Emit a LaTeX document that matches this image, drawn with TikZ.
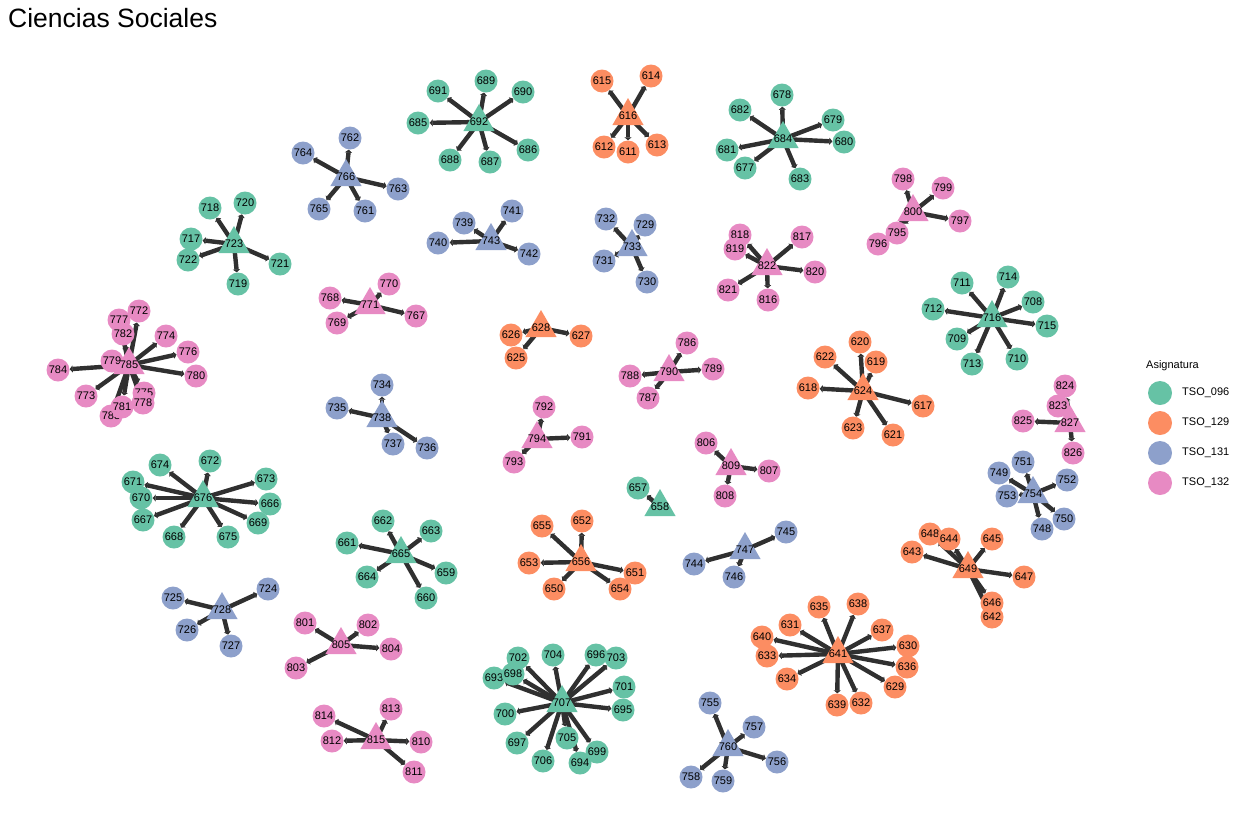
\documentclass[tikz,border=0pt]{standalone}
\usepackage{fontspec}
\setmainfont{Liberation Sans}
\usetikzlibrary{shapes.geometric,arrows.meta}
\pgfdeclarelayer{background}
\pgfsetlayers{background,main}
\definecolor{cG}{HTML}{66C2A5}
\definecolor{cO}{HTML}{FC8D62}
\definecolor{cB}{HTML}{8DA0CB}
\definecolor{cP}{HTML}{E78AC3}
\definecolor{edgec}{HTML}{303030}
\tikzset{
  lbl/.style={font=\fontsize{11}{11}\selectfont, inner sep=0pt},
  leaf/.style={circle, minimum size=23pt, inner sep=0pt, draw=none, font=\fontsize{11}{11}\selectfont},
  hub/.style={regular polygon, regular polygon sides=3, minimum size=36pt, inner sep=0pt, draw=none},
  edge/.style={draw=edgec, line width=4.4pt, -{Triangle[length=3pt,width=7pt]}},
}
\newcommand\grp[4]{%
  \foreach \l/\x/\y in {#4} {\node[leaf,fill=#1] (n\l) at (\x,\y) {\l};}
  \node[hub,fill=#1,label={[lbl]center:#2}] (n#2) at (#3) {};
  \begin{pgfonlayer}{background}
  \foreach \l/\x/\y in {#4} {\draw[edge] (n#2.center) -- (n\l);}
  \end{pgfonlayer}
}
\begin{document}
\begin{tikzpicture}[x=1pt,y=-1pt]
\useasboundingbox (0,0) rectangle (1249,823);
\node[anchor=base west, inner sep=0pt, font=\fontsize{26.5}{26.5}\selectfont] (title) at (8,27) {Ciencias Sociales};
% TSO_096 green
\grp{cG}{692}{479,122}{691/438/91, 689/486/81, 690/523/92, 685/418/123, 688/450/160, 687/490/162, 686/528/150}
\grp{cG}{684}{783,139}{678/782/95, 682/740/110, 679/833/120, 680/844/142, 681/727/150, 677/745/168, 683/800/179}
\grp{cG}{723}{234,244}{718/210/208, 720/245/203, 717/191/239, 722/188/260, 721/280/264, 719/238/284}
\grp{cG}{716}{992,318}{711/962/283, 714/1008/277, 708/1033/302, 712/933/309, 715/1047/326, 709/957/339, 713/972/364, 710/1017/359}
\grp{cG}{676}{203,498}{674/160/465, 672/210/461, 671/133/482, 673/266/479, 670/141/498, 666/270/504, 667/143/520, 669/258/523, 668/174/537, 675/228/537}
\grp{cG}{658}{660,507}{657/638/488}
\grp{cG}{665}{401,554}{662/383/521, 663/431/531, 661/347/543, 659/446/573, 664/367/577, 660/426/598}
\grp{cG}{707}{562,703}{702/518/658, 704/553/655, 696/596/655, 703/616/658, 693/494/678, 698/513/674, 701/624/687, 700/505/714, 695/623/710, 697/517/743, 705/567/738, 699/597/752, 706/543/761, 694/580/763}
% TSO_129 orange
\grp{cO}{616}{628,116}{615/602/81, 614/651/76, 612/604/147, 611/628/152, 613/657/145}
\grp{cO}{628}{541,328}{626/511/335, 625/516/358, 627/581/336}
\grp{cO}{624}{863,391}{620/860/342, 622/825/357, 619/876/362, 618/808/388, 617/923/406, 623/853/428, 621/893/435}
\grp{cO}{656}{581,562}{655/542/526, 652/582/521, 653/529/563, 651/635/573, 650/554/589, 654/620/589}
\grp{cO}{649}{968,569}{648/930/534, 644/949/539, 645/992/539, 643/912/552, 647/1024/577, 646/992/603, 642/992/617}
\grp{cO}{641}{838,654}{635/819/607, 638/858/604, 631/790/625, 637/882/630, 640/762/637, 630/908/646, 633/767/656, 636/907/667, 634/787/679, 629/895/687, 639/837/705, 632/861/703}
% TSO_131 blue
\grp{cB}{766}{346,177}{762/350/138, 764/303/153, 763/398/189, 765/319/209, 761/365/211}
\grp{cB}{743}{491,241}{739/464/223, 741/512/211, 740/438/243, 742/529/254}
\grp{cB}{733}{632,247}{732/606/219, 729/645/225, 731/604/261, 730/647/282}
\grp{cB}{738}{382,418}{734/382/385, 735/337/408, 737/393/444, 736/427/448}
\grp{cB}{754}{1033,494}{751/1023/462, 749/999/473, 752/1067/480, 753/1007/496, 750/1064/519, 748/1042/529}
\grp{cB}{747}{745,550}{745/786/532, 744/694/564, 746/734/577}
\grp{cB}{728}{222,610}{725/173/598, 724/268/589, 726/187/630, 727/231/646}
\grp{cB}{760}{728,747}{755/710/703, 757/754/727, 756/777/762, 758/691/777, 759/723/781}
% TSO_132 pink
\grp{cP}{822}{767,266}{818/740/235, 819/735/249, 817/802/237, 820/815/272, 821/728/290, 816/768/300}
\grp{cP}{800}{913,212}{798/903/179, 799/943/188, 797/960/221, 796/878/244, 795/897/233}
\grp{cP}{771}{370,305}{770/389/284, 768/330/298, 769/337/323, 767/416/316}
\grp{cP}{785}{129,365}{772/139/311, 777/119/320, 782/123/334, 774/166/336, 776/188/352, 779/112/361, 784/58/370, 780/196/376, 773/86/396, 775/144/393, 778/143/403, 783/111/416, 781/122/407}
\grp{cP}{790}{669,372}{786/687/343, 788/630/376, 789/713/369, 787/648/398}
\grp{cP}{794}{537,439}{792/544/407, 791/582/437, 793/514/462}
\grp{cP}{809}{731,466}{806/706/443, 807/769/471, 808/725/496}
\grp{cP}{827}{1070,423}{824/1065/386, 823/1058/406, 825/1023/421, 826/1073/453}
\grp{cP}{805}{341,645}{801/305/623, 802/368/625, 804/391/649, 803/296/668}
\grp{cP}{815}{376,740}{814/324/716, 813/391/709, 812/332/741, 810/421/742, 811/414/772}
% legend
\node[anchor=west, inner sep=0pt, font=\fontsize{11}{11}\selectfont] (legtitle) at (1146,366) {Asignatura};
\node[leaf, fill=cG, minimum size=24pt] (k1) at (1160,393) {};
\node[leaf, fill=cO, minimum size=24pt] (k2) at (1160,423) {};
\node[leaf, fill=cB, minimum size=24pt] (k3) at (1160,453) {};
\node[leaf, fill=cP, minimum size=24pt] (k4) at (1160,483) {};
\node[anchor=west, inner sep=0pt, font=\fontsize{11}{11}\selectfont] (t1) at (1182,393) {TSO\_096};
\node[anchor=west, inner sep=0pt, font=\fontsize{11}{11}\selectfont] (t2) at (1182,423) {TSO\_129};
\node[anchor=west, inner sep=0pt, font=\fontsize{11}{11}\selectfont] (t3) at (1182,453) {TSO\_131};
\node[anchor=west, inner sep=0pt, font=\fontsize{11}{11}\selectfont] (t4) at (1182,483) {TSO\_132};
\end{tikzpicture}
\end{document}
